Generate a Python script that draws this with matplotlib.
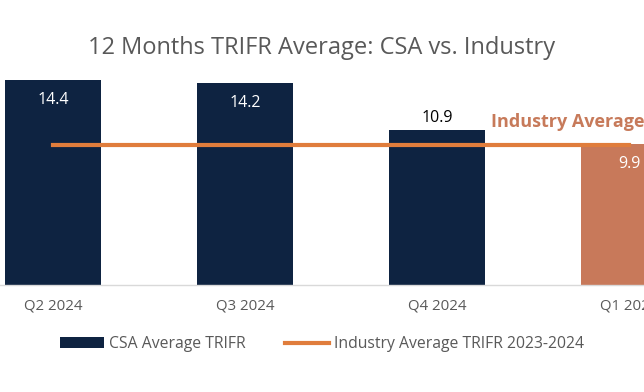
import matplotlib
matplotlib.use('Agg')
import matplotlib.pyplot as plt
from matplotlib.patches import Patch
from matplotlib.lines import Line2D

quarters = ['Q2 2024', 'Q3 2024', 'Q4 2024', 'Q1 2025']
csa_trifr = [14.4, 14.2, 10.9, 9.9]
industry_avg = 9.8
bar_colors = ['#0e2341', '#0e2341', '#0e2341', '#c8795a']
label_colors = ['white', 'white', 'black', 'white']
label_inside = [True, True, False, True]

navy = '#0e2341'
line_orange = '#e07d3c'
gray = '#595959'
font = ['Open Sans', 'DejaVu Sans']
plt.rcParams['font.family'] = font

fig = plt.figure(figsize=(6.44, 3.92), dpi=100)
ax = fig.add_axes([0, 0.273, 1, 0.581])

x = list(range(len(quarters)))
ax.bar(x, csa_trifr, width=0.5, color=bar_colors, zorder=2)
ax.plot([x[0], x[-1]], [industry_avg, industry_avg], color=line_orange, lw=3, zorder=3)

for i, v in enumerate(csa_trifr):
    if label_inside[i]:
        ax.text(i, v - 0.85, f'{v}', ha='center', va='top', color=label_colors[i],
                fontsize=11.5, zorder=4)
    else:
        ax.text(i, v + 0.25, f'{v}', ha='center', va='bottom', color=label_colors[i],
                fontsize=11.5, zorder=4)

ax.text(2.28, industry_avg + 1.0, f'Industry Average: {industry_avg}', ha='left',
        va='bottom', color='#c77a5a', fontsize=13, fontweight='bold', zorder=4)

ax.set_xlim(-0.276, 3.078)
ax.set_ylim(0, 16)
ax.set_yticks([])
ax.set_xticks(x)
ax.set_xticklabels(quarters, color=gray, fontsize=10.8)
ax.tick_params(axis='x', length=0, pad=10)
for s in ['top', 'right', 'left']:
    ax.spines[s].set_visible(False)
ax.spines['bottom'].set_color('#d9d9d9')
ax.spines['bottom'].set_linewidth(1)

fig.text(0.5, 0.878, '12 Months TRIFR Average: CSA vs. Industry', ha='center',
         va='center', color=gray, fontsize=17)

handles = [Patch(facecolor=navy, label='CSA Average TRIFR'),
           Line2D([0], [0], color=line_orange, lw=3, label='Industry Average TRIFR 2023-2024')]
fig.legend(handles=handles, loc='center', bbox_to_anchor=(0.5, 0.122), ncol=2,
           frameon=False, fontsize=11.3, labelcolor=gray, handlelength=2.8,
           handletextpad=0.3, columnspacing=2.5)

fig.savefig('out.png', dpi=100)
